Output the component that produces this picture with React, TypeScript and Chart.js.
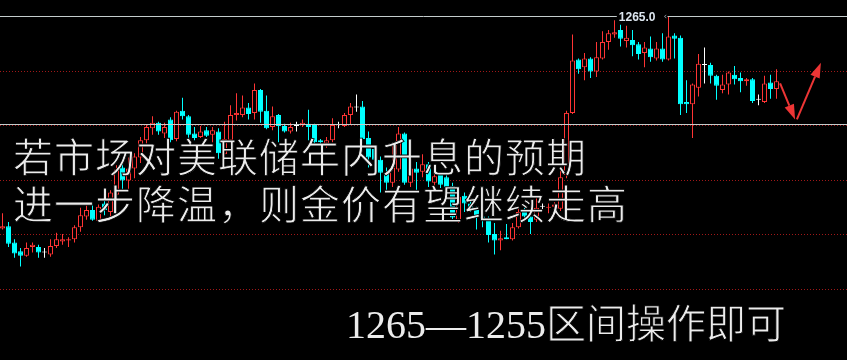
import { useEffect, useRef } from "react";
import { Chart, registerables } from "chart.js";

Chart.register(...registerables);

// Gold price bars, one per slot (oldest first)
const opens = [
  1245.6, 1245.8, 1244.3, 1243.5, 1243.1, 1243.9, 1243.9, 1243.4, 1243.2, 1244.0,
  1244.4, 1244.5, 1244.6, 1245.7, 1246.7, 1247.3, 1246.3, 1247.9, 1247.1, 1248.7,
  1251.2, 1250.0, 1251.1, 1252.1, 1253.7, 1254.8, 1255.3, 1254.3, 1255.6, 1253.8,
  1256.4, 1255.9, 1254.3, 1254.0, 1254.6, 1254.2, 1254.5, 1252.4, 1253.7, 1256.0,
  1256.0, 1256.7, 1256.2, 1258.3, 1256.4, 1254.9, 1256.0, 1255.0, 1254.5, 1255.0,
  1255.1, 1255.2, 1255.1, 1253.7, 1253.4, 1253.7, 1255.1, 1255.0, 1256.0, 1256.7,
  1256.8, 1253.9, 1252.9, 1251.9, 1250.7, 1249.8, 1251.0, 1254.3, 1249.8, 1251.1,
  1250.8, 1251.5, 1249.8, 1250.5, 1250.3, 1249.5, 1246.4, 1248.6, 1247.9, 1247.3,
  1246.7, 1246.4, 1245.1, 1244.5, 1244.8, 1244.6, 1245.7, 1247.2, 1246.7, 1246.4,
  1247.6, 1247.5, 1247.6, 1247.4, 1250.5, 1256.2, 1261.1, 1260.4, 1261.2, 1260.0,
  1261.2, 1262.7, 1263.4, 1263.8, 1262.8, 1262.9, 1262.5, 1261.7, 1262.1, 1261.2,
  1262.1, 1261.1, 1263.3, 1263.1, 1257.2, 1257.0, 1258.5, 1260.6, 1260.6, 1259.6,
  1258.3, 1258.8, 1259.7, 1259.4, 1259.1, 1259.3, 1257.4, 1257.2, 1259.0, 1258.4,
];
const highs = [
  1247.0, 1246.2, 1244.6, 1243.8, 1244.3, 1244.3, 1244.1, 1243.8, 1244.6, 1245.2,
  1245.1, 1244.8, 1245.9, 1247.5, 1247.9, 1247.9, 1247.8, 1248.4, 1249.1, 1251.4,
  1251.7, 1252.1, 1252.5, 1254.0, 1255.1, 1255.9, 1255.4, 1255.3, 1255.8, 1256.4,
  1257.6, 1256.0, 1254.9, 1255.0, 1254.9, 1254.9, 1254.8, 1255.4, 1256.9, 1258.0,
  1257.8, 1257.1, 1258.9, 1258.4, 1257.8, 1256.8, 1256.1, 1255.2, 1255.3, 1255.4,
  1255.6, 1256.5, 1255.2, 1253.8, 1254.0, 1255.7, 1255.4, 1256.2, 1257.1, 1257.9,
  1257.3, 1254.5, 1253.1, 1252.2, 1251.2, 1253.4, 1254.9, 1254.4, 1251.3, 1251.7,
  1252.4, 1251.7, 1250.7, 1250.6, 1250.5, 1249.8, 1248.7, 1248.9, 1248.2, 1247.6,
  1247.0, 1246.7, 1246.1, 1245.4, 1246.0, 1246.1, 1247.6, 1247.5, 1246.8, 1248.4,
  1247.9, 1247.9, 1248.0, 1251.0, 1256.4, 1263.4, 1261.2, 1261.7, 1261.3, 1262.7,
  1263.7, 1263.8, 1264.7, 1264.3, 1264.2, 1263.8, 1262.7, 1262.7, 1263.2, 1262.7,
  1263.5, 1265.0, 1263.5, 1263.3, 1259.2, 1258.9, 1261.6, 1262.2, 1260.8, 1259.7,
  1259.7, 1260.0, 1260.5, 1259.9, 1259.4, 1259.4, 1257.9, 1259.6, 1259.7, 1260.2,
];
const lows = [
  1245.5, 1243.9, 1242.9, 1242.1, 1243.0, 1243.4, 1242.9, 1242.9, 1243.0, 1243.8,
  1244.1, 1243.9, 1244.3, 1245.3, 1246.4, 1246.3, 1246.2, 1246.8, 1246.4, 1248.4,
  1249.0, 1249.1, 1250.2, 1251.6, 1253.4, 1254.2, 1254.2, 1253.9, 1253.5, 1253.6,
  1255.6, 1253.9, 1253.7, 1253.9, 1254.0, 1253.5, 1252.0, 1251.9, 1253.4, 1255.5,
  1255.8, 1255.6, 1255.6, 1255.3, 1254.7, 1254.6, 1253.5, 1254.4, 1254.3, 1254.5,
  1254.9, 1253.7, 1253.4, 1253.3, 1253.0, 1253.5, 1254.8, 1254.9, 1255.1, 1256.3,
  1253.4, 1251.2, 1250.8, 1248.9, 1248.9, 1249.4, 1250.8, 1249.6, 1249.4, 1249.1,
  1250.3, 1249.4, 1249.3, 1249.3, 1248.5, 1246.2, 1246.1, 1247.1, 1247.1, 1245.5,
  1245.7, 1244.3, 1243.2, 1243.6, 1244.6, 1244.5, 1245.6, 1246.4, 1245.1, 1246.2,
  1247.2, 1247.0, 1247.3, 1247.2, 1250.2, 1256.1, 1259.8, 1259.2, 1259.4, 1259.5,
  1261.1, 1262.0, 1263.1, 1262.3, 1262.2, 1261.4, 1261.1, 1260.4, 1260.9, 1261.0,
  1260.9, 1261.0, 1261.2, 1256.0, 1256.2, 1253.9, 1257.7, 1258.9, 1258.9, 1257.4,
  1258.0, 1257.9, 1258.8, 1258.1, 1258.7, 1257.1, 1256.9, 1257.1, 1257.5, 1257.5,
];
const closes = [
  1245.8, 1244.2, 1243.3, 1243.1, 1243.8, 1244.1, 1243.4, 1243.4, 1244.0, 1244.6,
  1244.6, 1244.6, 1245.7, 1246.8, 1247.3, 1246.4, 1247.6, 1247.3, 1248.9, 1251.0,
  1250.0, 1251.1, 1252.2, 1253.7, 1254.9, 1255.3, 1254.5, 1254.9, 1253.7, 1256.3,
  1255.9, 1254.2, 1253.9, 1254.5, 1254.1, 1254.6, 1252.5, 1253.8, 1256.0, 1256.2,
  1256.7, 1256.1, 1258.3, 1256.3, 1254.8, 1255.9, 1255.0, 1254.5, 1254.9, 1255.0,
  1255.3, 1254.9, 1253.5, 1253.5, 1253.7, 1255.1, 1255.1, 1256.0, 1256.8, 1256.7,
  1253.8, 1252.1, 1251.9, 1250.7, 1249.8, 1251.2, 1254.3, 1249.8, 1251.1, 1250.7,
  1251.5, 1249.9, 1250.4, 1249.6, 1249.4, 1246.6, 1248.5, 1247.9, 1247.5, 1246.7,
  1246.5, 1245.0, 1244.5, 1244.7, 1244.6, 1245.7, 1247.1, 1246.7, 1246.2, 1247.5,
  1247.6, 1247.6, 1247.8, 1250.3, 1256.2, 1261.0, 1260.2, 1261.2, 1260.0, 1261.3,
  1262.7, 1263.5, 1263.6, 1263.0, 1263.1, 1262.4, 1261.6, 1262.2, 1261.3, 1262.1,
  1261.1, 1263.2, 1263.0, 1257.0, 1257.0, 1258.8, 1260.7, 1260.6, 1259.6, 1258.7,
  1258.8, 1259.9, 1259.3, 1259.1, 1259.3, 1257.3, 1257.4, 1258.9, 1258.4, 1259.1,
];

// Price grid (dotted) and the trading range (solid)
const gridLevels = [1260, 1255, 1250, 1245, 1240];
const rangeLevels = [1265, 1255];

// Visible window: price span and slot span (room on the right for the arrows)
const priceMin = 1233.53;
const priceMax = 1266.56;
const slotMin = -0.4167;
const slotMax = 140.75;

// Expected path: dip first, then rebound
const trendArrows: [number, number, number, number][] = [
  [129.6, 1258.9, 132.1, 1255.6],
  [132.4, 1255.6, 136.4, 1260.8],
];

const captionLines = ["若市场对美联储年内升息的预期", "进一步降温，则金价有望继续走高"];
const rangeFigures = "1265—1255";
const rangeWords = "区间操作即可";

const UP = "#ff3434";
const DOWN = "#00ffff";
const FLAT = "#ffffff";
const ARROW = "#ee3535";

const kind = (i: number) =>
  closes[i] > opens[i] ? UP : closes[i] < opens[i] ? DOWN : FLAT;

const backdrop = {
  id: "backdrop",
  beforeDraw(chart: any) {
    const { ctx, width, height } = chart;
    ctx.save();
    ctx.fillStyle = "#000";
    ctx.fillRect(0, 0, width, height);
    ctx.restore();
  },
};

const levels = {
  id: "levels",
  beforeDatasetsDraw(chart: any) {
    const { ctx, chartArea, scales } = chart;
    ctx.save();
    ctx.strokeStyle = "#a01818";
    ctx.lineWidth = 1;
    ctx.setLineDash([1, 2]);
    for (const v of gridLevels) {
      const py = Math.floor(scales.y.getPixelForValue(v)) + 0.5;
      ctx.beginPath();
      ctx.moveTo(chartArea.left, py);
      ctx.lineTo(chartArea.right, py);
      ctx.stroke();
    }
    ctx.restore();
  },
  afterDatasetsDraw(chart: any) {
    const { ctx, chartArea, scales } = chart;
    ctx.save();
    ctx.strokeStyle = "#c4cccc";
    ctx.lineWidth = 1;
    for (const v of rangeLevels) {
      const py = Math.floor(scales.y.getPixelForValue(v)) - 0.5;
      ctx.beginPath();
      ctx.moveTo(chartArea.left, py);
      ctx.lineTo(chartArea.right, py);
      ctx.stroke();
    }

    // Highest price marker
    const top = Math.max(...highs);
    const i = highs.indexOf(top);
    const px = scales.x.getPixelForValue(i);
    const py = Math.floor(scales.y.getPixelForValue(top)) - 0.5;
    const text = top.toFixed(1);
    ctx.font = 'bold 12px "Liberation Sans", Arial, sans-serif';
    const w = ctx.measureText(text).width;
    const right = px - 13;
    ctx.fillStyle = "#000";
    ctx.fillRect(right - w - 2, py - 7, px - 1 - (right - w - 2), 14);
    ctx.fillStyle = "#dde6ef";
    ctx.textAlign = "right";
    ctx.textBaseline = "middle";
    ctx.fillText(text, right, py + 1);
    ctx.fillStyle = "#9aa4ae";
    ctx.font = '9px "DejaVu Sans", sans-serif';
    ctx.textAlign = "left";
    ctx.fillText("‹", px - 5, py);

    // Arrows
    ctx.strokeStyle = ARROW;
    ctx.fillStyle = ARROW;
    ctx.lineWidth = 2;
    for (const [x0, y0, x1, y1] of trendArrows) {
      const ax = scales.x.getPixelForValue(x0);
      const ay = scales.y.getPixelForValue(y0);
      const bx = scales.x.getPixelForValue(x1);
      const by = scales.y.getPixelForValue(y1);
      const ang = Math.atan2(by - ay, bx - ax);
      const head = 15;
      const half = 5;
      const hx = bx - head * Math.cos(ang);
      const hy = by - head * Math.sin(ang);
      ctx.beginPath();
      ctx.moveTo(ax, ay);
      ctx.lineTo(hx, hy);
      ctx.stroke();
      ctx.beginPath();
      ctx.moveTo(bx, by);
      ctx.lineTo(hx + half * Math.sin(ang), hy - half * Math.cos(ang));
      ctx.lineTo(hx - half * Math.sin(ang), hy + half * Math.cos(ang));
      ctx.closePath();
      ctx.fill();
    }
    ctx.restore();
  },
};

const captionStyle = (left: number, top: number): any => ({
  position: "absolute",
  left,
  top,
  margin: 0,
  color: "#ececec",
  fontFamily: '"Noto Sans CJK SC", sans-serif',
  fontWeight: 400,
  fontSize: 40,
  lineHeight: "40px",
  letterSpacing: "1px",
  whiteSpace: "nowrap",
  WebkitTextStroke: "0.9px #000",
});

export default function App() {
  const ref = useRef<HTMLCanvasElement>(null);

  useEffect(() => {
    document.body.style.margin = "0";
    document.body.style.background = "#000";
    const idx = opens.map((_, i) => i);
    const chart = new Chart(ref.current as HTMLCanvasElement, {
      type: "bar",
      data: {
        datasets: [
          {
            label: "body",
            data: idx.map((i) => ({ x: i, y: [opens[i], closes[i]] })) as any,
            backgroundColor: idx.map((i) => (kind(i) === UP ? "#000" : kind(i))),
            borderColor: idx.map((i) => kind(i)),
            borderWidth: 1,
            borderSkipped: false,
            minBarLength: 1,
            grouped: false,
            barThickness: 5,
            inflateAmount: 0,
            order: 0,
          } as any,
          {
            label: "wick",
            data: idx.map((i) => ({ x: i, y: [lows[i], highs[i]] })) as any,
            backgroundColor: idx.map((i) => kind(i)),
            borderWidth: 0,
            grouped: false,
            barThickness: 1,
            inflateAmount: 0,
            order: 1,
          } as any,
        ],
      },
      options: {
        responsive: false,
        animation: false,
        events: [],
        layout: { padding: 0 },
        plugins: { legend: { display: false }, tooltip: { enabled: false } },
        scales: {
          x: { type: "linear", min: slotMin, max: slotMax, offset: false, display: false },
          y: { type: "linear", min: priceMin, max: priceMax, display: false },
        },
      } as any,
      plugins: [backdrop, levels],
    });
    return () => chart.destroy();
  }, []);

  return (
    <div style={{ position: "relative", width: 847, height: 360, background: "#000", overflow: "hidden" }}>
      <canvas ref={ref} width={847} height={360} style={{ display: "block" }} />
      <div style={captionStyle(13, 135)}>{captionLines[0]}</div>
      <div style={captionStyle(13, 182)}>{captionLines[1]}</div>
      <div
        style={{
          position: "absolute",
          left: 346,
          top: 301,
          color: "#ececec",
          fontSize: 40,
          lineHeight: "40px",
          whiteSpace: "nowrap",
        }}
      >
        <span style={{ fontFamily: '"Liberation Serif", serif' }}>{rangeFigures}</span>
        <span style={{ fontFamily: '"Noto Sans CJK SC", sans-serif', WebkitTextStroke: "0.9px #000" }}>
          {rangeWords}
        </span>
      </div>
    </div>
  );
}
